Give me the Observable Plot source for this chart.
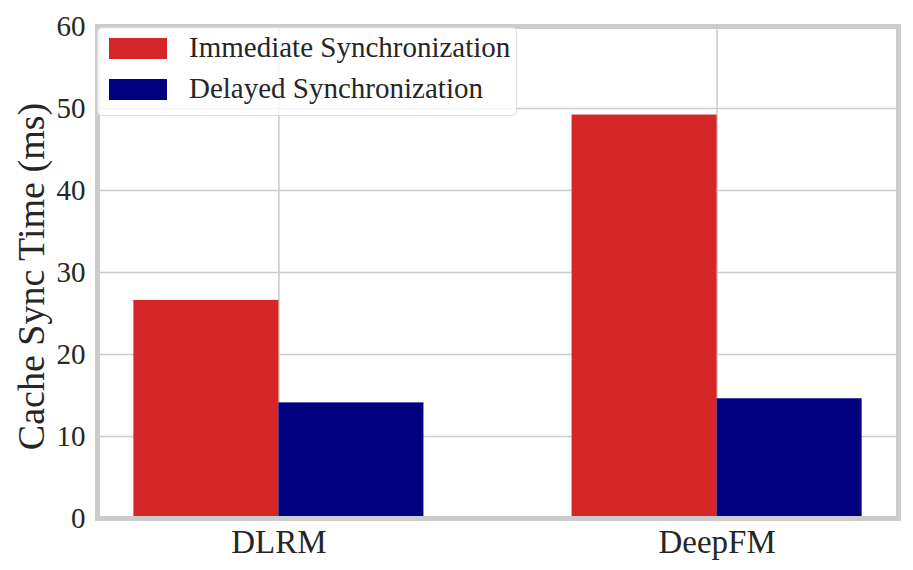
<!DOCTYPE html>
<html>
<head>
<meta charset="utf-8">
<script src="https://cdn.jsdelivr.net/npm/d3@7"></script>
<script src="https://cdn.jsdelivr.net/npm/@observablehq/plot@0.6"></script>
<style>
  html, body { margin: 0; padding: 0; background: #fff; }
  #wrap { position: relative; width: 913px; height: 570px; }
  #legend { position: absolute; left: 97px; top: 27px; width: 420px; height: 89px; box-sizing: border-box;
    border: 1.5px solid #dddddd; border-radius: 5px; background: rgba(255,255,255,0.8); }
  .row { position: absolute; left: 0; height: 30px; }
  .sw { position: absolute; left: 11px; width: 58px; height: 21px; }
  .lab { position: absolute; left: 91px; font-size: 29px; color: #262626; white-space: nowrap; line-height: 1; }
</style>
</head>
<body>
<div id="wrap"></div>
<script>
const categories = ["DLRM", "DeepFM"];
const seriesNames = ["Immediate Synchronization", "Delayed Synchronization"];
const immediate = [26.6, 49.2];
const delayed = [14.1, 14.6];
const yTicks = [0, 10, 20, 30, 40, 50, 60];
const colors = ["#d62728", "#000080"];

const FONT = "Liberation Serif";
const barWidth = 0.331;
const rows = [];
categories.forEach((c, i) => {
  rows.push({cat: c, i, series: seriesNames[0], value: immediate[i], k: 0});
  rows.push({cat: c, i, series: seriesNames[1], value: delayed[i], k: 1});
});

const chart = Plot.plot({
  width: 913,
  height: 570,
  marginLeft: 97,
  marginRight: 15,
  marginTop: 26,
  marginBottom: 52,
  style: {color: "#262626", background: "#fff", fontFamily: FONT},
  x: {domain: [-0.414, 1.414], axis: null},
  y: {domain: [0, 60], axis: null},
  color: {domain: seriesNames, range: colors},
  marks: [
    Plot.gridY(yTicks, {stroke: "#cccccc", strokeOpacity: 1, strokeWidth: 1.6}),
    Plot.gridX([0, 1], {stroke: "#cccccc", strokeOpacity: 1, strokeWidth: 1.6}),
    Plot.rectY(rows, {
      x1: d => d.i - barWidth + d.k * barWidth,
      x2: d => d.i + d.k * barWidth,
      y1: 0,
      y2: "value",
      fill: "series"
    }),
    Plot.frame({stroke: "#cccccc", strokeWidth: 5}),
    Plot.axisY(yTicks, {tickSize: 0, tickPadding: 12, fontSize: 29, fontFamily: FONT, label: null, fill: "#262626"}),
    Plot.axisX([0, 1], {tickSize: 0, tickPadding: 11, fontSize: 33, fontFamily: FONT, label: null, tickFormat: i => categories[i], fill: "#262626"}),
    Plot.text(["Cache Sync Time (ms)"], {frameAnchor: "left", textAnchor: "middle", rotate: -90, dx: -66, dy: 4, fontSize: 38, fontFamily: FONT, fill: "#262626"})
  ]
});

const wrap = document.getElementById("wrap");
wrap.appendChild(chart);

const legend = document.createElement("div");
legend.id = "legend";
seriesNames.forEach((name, j) => {
  const row = document.createElement("div");
  row.className = "row";
  row.style.top = (10 + j * 41) + "px";
  const sw = document.createElement("div");
  sw.className = "sw";
  sw.style.background = colors[j];
  sw.style.top = "0px";
  const lab = document.createElement("div");
  lab.className = "lab";
  lab.style.top = "-5px";
  lab.style.fontFamily = "'Liberation Serif'";
  lab.textContent = name;
  row.appendChild(sw);
  row.appendChild(lab);
  legend.appendChild(row);
});
wrap.appendChild(legend);
</script>
</body>
</html>
